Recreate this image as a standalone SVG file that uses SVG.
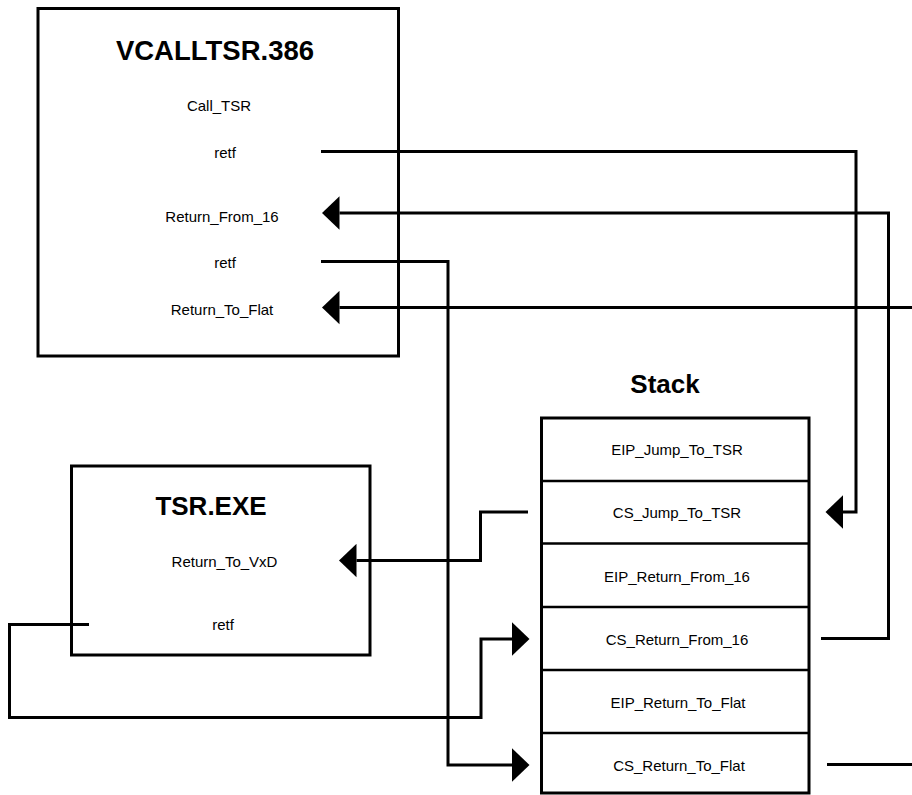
<svg xmlns="http://www.w3.org/2000/svg" width="912" height="795" viewBox="0 0 912 795">
<style>
.box{fill:#fff;stroke:#000;stroke-width:3}
.div{stroke:#000;stroke-width:2.6}
.title{font-family:"Liberation Sans",Arial,sans-serif;font-weight:bold;text-anchor:middle;fill:#000}
.lbl{font-family:"Liberation Sans",Arial,sans-serif;font-size:15px;text-anchor:middle;fill:#000}
.con{fill:none;stroke:#000;stroke-width:3;stroke-linejoin:miter}
</style>
<defs>
<marker id="ah" viewBox="0 -17 18 34" refX="0" refY="0" markerWidth="18" markerHeight="34" markerUnits="userSpaceOnUse" orient="auto">
<path d="M0,-16.7 L17.5,0 L0,16.7 Z" fill="#000"/>
</marker>
</defs>
<rect width="912" height="795" fill="#fff"/>
<g id="vcalltsr">
<rect class="box" x="38" y="8.5" width="360.5" height="347.5"/>
<text class="title" x="215" y="60" font-size="27.5">VCALLTSR.386</text>
<text class="lbl" x="219" y="111">Call_TSR</text>
<text class="lbl" x="225" y="158">retf</text>
<text class="lbl" x="222" y="222">Return_From_16</text>
<text class="lbl" x="225" y="268">retf</text>
<text class="lbl" x="222" y="315">Return_To_Flat</text>
</g>
<g id="tsr">
<rect class="box" x="71.5" y="466" width="298.5" height="189"/>
<text class="title" x="211" y="515" font-size="26">TSR.EXE</text>
<text class="lbl" x="224.5" y="567">Return_To_VxD</text>
<text class="lbl" x="223" y="630">retf</text>
</g>
<g id="stack">
<text class="title" x="665" y="393" font-size="26">Stack</text>
<rect class="box" x="541.5" y="418" width="267.5" height="375"/>
<g id="row-eip-jump"><text class="lbl" x="677" y="455">EIP_Jump_To_TSR</text></g>
<line class="div" x1="541.5" y1="481" x2="809" y2="481"/>
<g id="row-cs-jump"><text class="lbl" x="677" y="518">CS_Jump_To_TSR</text></g>
<line class="div" x1="541.5" y1="543.5" x2="809" y2="543.5"/>
<g id="row-eip-ret16"><text class="lbl" x="677" y="582">EIP_Return_From_16</text></g>
<line class="div" x1="541.5" y1="607" x2="809" y2="607"/>
<g id="row-cs-ret16"><text class="lbl" x="677" y="645">CS_Return_From_16</text></g>
<line class="div" x1="541.5" y1="670" x2="809" y2="670"/>
<g id="row-eip-flat"><text class="lbl" x="678" y="708">EIP_Return_To_Flat</text></g>
<line class="div" x1="541.5" y1="733" x2="809" y2="733"/>
<g id="row-cs-flat"><text class="lbl" x="679" y="771">CS_Return_To_Flat</text></g>
</g>
<g id="connectors">
<path class="con" d="M321,151.5 H856 V512 H843" marker-end="url(#ah)"/>
<path class="con" d="M821,638.5 H888.5 V213 H339.5" marker-end="url(#ah)"/>
<path class="con" d="M321,261.5 H448 V765 H512" marker-end="url(#ah)"/>
<path class="con" d="M912,307.5 H339.5" marker-end="url(#ah)"/>
<path class="con" d="M827,764.5 H912"/>
<path class="con" d="M528,512 H480.5 V560.5 H356.5" marker-end="url(#ah)"/>
<path class="con" d="M89,624.5 H9.5 V717.5 H481 V639 H512" marker-end="url(#ah)"/>
</g>
</svg>
